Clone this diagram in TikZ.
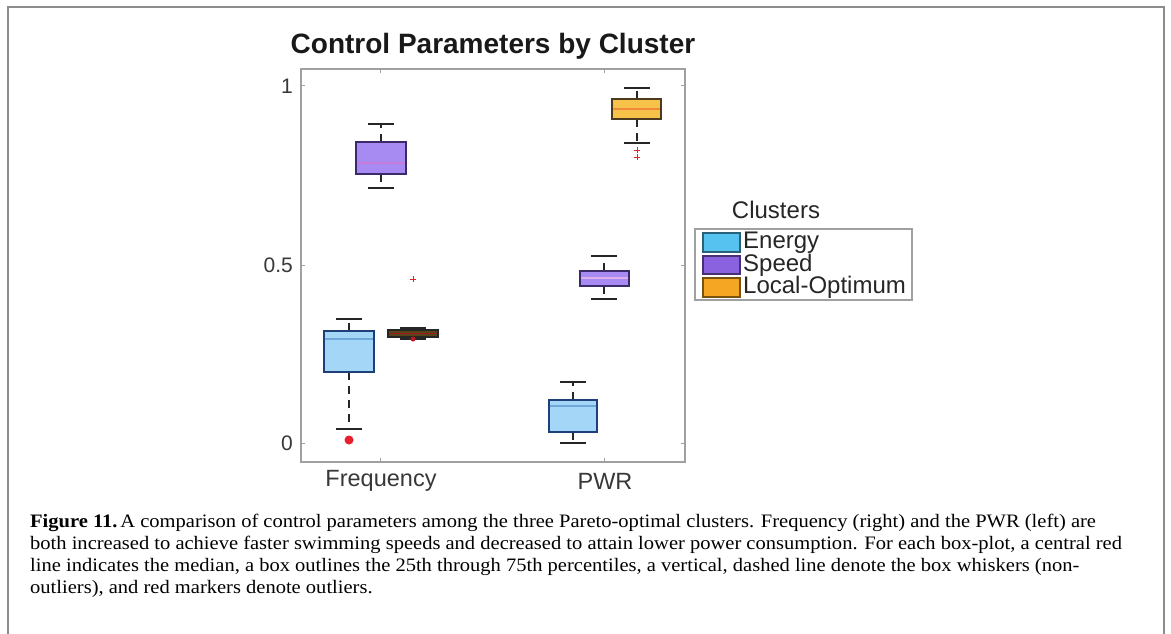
\documentclass[tikz,border=0pt]{standalone}
\usepackage{fontspec}
\setmainfont{Liberation Serif}
\newfontfamily\capfont[FakeStretch=1.08]{Liberation Serif}
\newfontfamily\hv{Liberation Sans}
\definecolor{frame}{HTML}{8C8C8C}
\definecolor{axgray}{HTML}{A0A0A0}
\definecolor{txtgray}{HTML}{383838}
\definecolor{enfill}{HTML}{A3D6F7}
\definecolor{enedge}{HTML}{1F3F78}
\definecolor{enmed}{HTML}{6FA8D8}
\definecolor{spfill}{HTML}{A88BF2}
\definecolor{spedge}{HTML}{3A2A6A}
\definecolor{spmed}{HTML}{C77AD8}
\definecolor{lofill}{HTML}{F7C24A}
\definecolor{loedge}{HTML}{4A3A20}
\definecolor{lomed}{HTML}{F08A3A}
\definecolor{enleg}{HTML}{55C2F0}
\definecolor{spleg}{HTML}{8A62E0}
\definecolor{loleg}{HTML}{F5A623}
\definecolor{outred}{HTML}{E8202A}
\tikzset{
  figframe/.style={draw=frame, line width=2pt},
  axline/.style={draw=axgray, line width=1.4pt},
  tickline/.style={draw=axgray, line width=1pt},
  whisk/.style={draw=black!85, line width=1.6pt, dash pattern=on 8pt off 6pt},
  capline/.style={draw=black!85, line width=2pt},
  ticklab/.style={font=\hv\fontsize{21}{21}\selectfont, text=txtgray, anchor=east, inner sep=0pt},
  xlab/.style={font=\hv\fontsize{23.5}{23.5}\selectfont, text=txtgray, inner sep=0pt},
  leglab/.style={font=\hv\fontsize{24}{24}\selectfont, text=black!85, anchor=west, inner sep=0pt},
  capt/.style={font=\capfont\fontsize{19}{22}\selectfont, anchor=base west, inner sep=0pt, text=black},
  outplus/.style={draw=outred, line width=1pt},
  boxstyle/.style={line width=1.6pt},
}
% \bxp{center}{top}{bottom}{uppercap}{lowercap}
\newcommand{\bxp}[5]{%
  \draw[whisk] (#1,#2) -- (#1,#4);
  \draw[whisk] (#1,#3) -- (#1,#5);
  \draw[capline] (#1-13,#4) -- (#1+13,#4);
  \draw[capline] (#1-13,#5) -- (#1+13,#5);
}
\begin{document}
\begin{tikzpicture}[x=1pt,y=-1pt]
\useasboundingbox (0,0) rectangle (1171,634);
\fill[white] (0,0) rectangle (1171,634);
% figure frame
\draw[figframe] (8,634) -- (8,7) -- (1164,7) -- (1164,634);
% title
\node[font=\hv\bfseries\fontsize{28}{28}\selectfont, text=black!90, inner sep=0pt] (title) at (493,46) {Control Parameters by Cluster};
% axes
\draw[axline] (301,69) rectangle (685,462);
\foreach \yy in {86,265,443}{
  \draw[tickline] (301,\yy) -- (305,\yy);
  \draw[tickline] (685,\yy) -- (681,\yy);
}
\foreach \xx in {380,604}{
  \draw[tickline] (\xx,462) -- (\xx,458);
  \draw[tickline] (\xx,69) -- (\xx,73);
}
\node[ticklab] (y1) at (293,86) {1};
\node[ticklab] (y05) at (293,265) {0.5};
\node[ticklab] (y0) at (293,443) {0};
\node[xlab] (xf) at (381,481) {Frequency};
\node[xlab] (xp) at (605,481) {PWR};

% ---- whiskers ----
\bxp{349}{331}{372}{319}{429}
\bxp{381}{142}{174}{124}{188}
\bxp{413}{330}{337}{328}{339}
\bxp{573}{400}{432}{382}{443}
\bxp{604}{271}{286}{256}{299}
\bxp{637}{99}{119}{88}{143}
% ---- boxes ----
\draw[boxstyle, fill=enfill, draw=enedge] (324,331) rectangle (374,372);
\draw[enmed, line width=1.4pt] (325,339) -- (373,339);
\draw[boxstyle, fill=spfill, draw=spedge] (356,142) rectangle (406,174);
\draw[spmed, line width=1.4pt] (357,163) -- (405,163);
\draw[boxstyle, fill=lofill!35!black, draw=black!85] (388,330) rectangle (438,337);
\draw[outred!70!black, line width=1.2pt] (389,333.5) -- (437,333.5);
\draw[boxstyle, fill=enfill, draw=enedge] (549,400) rectangle (597,432);
\draw[enmed, line width=1.4pt] (550,406) -- (596,406);
\draw[boxstyle, fill=spfill, draw=spedge] (580,271) rectangle (629,286);
\draw[spmed!60!white, line width=1.4pt] (581,278) -- (628,278);
\draw[boxstyle, fill=lofill, draw=loedge] (612,99) rectangle (661,119);
\draw[lomed, line width=1.4pt] (613,109) -- (660,109);
% ---- outliers ----
\fill[outred] (349,440) circle (4.5);
\draw[outplus] (410,279) -- (416,279) (413,276) -- (413,282);
\fill[outred!80!black] (413,339) circle (2.5);
\draw[outplus] (634,150) -- (640,150) (637,147) -- (637,153);
\draw[outplus] (634,157) -- (640,157) (637,154) -- (637,160);

% ---- legend ----
\node[font=\hv\fontsize{24}{24}\selectfont, text=black!85, inner sep=0pt] (legtitle) at (776,210) {Clusters};
\draw[draw=axgray, line width=1.4pt, fill=white] (695,229) rectangle (912,300);
\draw[fill=enleg, draw=enleg!50!black, line width=1.2pt] (703,233) rectangle (740,252);
\draw[fill=spleg, draw=spleg!50!black, line width=1.2pt] (703,256) rectangle (740,274);
\draw[fill=loleg, draw=loleg!50!black, line width=1.2pt] (703,278) rectangle (740,297);
\node[leglab] (le) at (743,242.5) {Energy};
\node[leglab] (ls) at (743,265) {Speed};
\node[leglab] (ll) at (743,287.5) {Local-Optimum};

% ---- caption ----
\node[capt] (c1) at (30,527) {\textbf{Figure 11.}\hspace{0.15em}A comparison of control parameters among the three Pareto-optimal clusters. Frequency (right) and the PWR (left) are};
\node[capt] (c2) at (30,549) {both increased to achieve faster swimming speeds and decreased to attain lower power consumption. For each box-plot, a central red};
\node[capt] (c3) at (30,571) {line indicates the median, a box outlines the 25th through 75th percentiles, a vertical, dashed line denote the box whiskers (non-};
\node[capt] (c4) at (30,593) {outliers), and red markers denote outliers.};
\end{tikzpicture}
\end{document}
